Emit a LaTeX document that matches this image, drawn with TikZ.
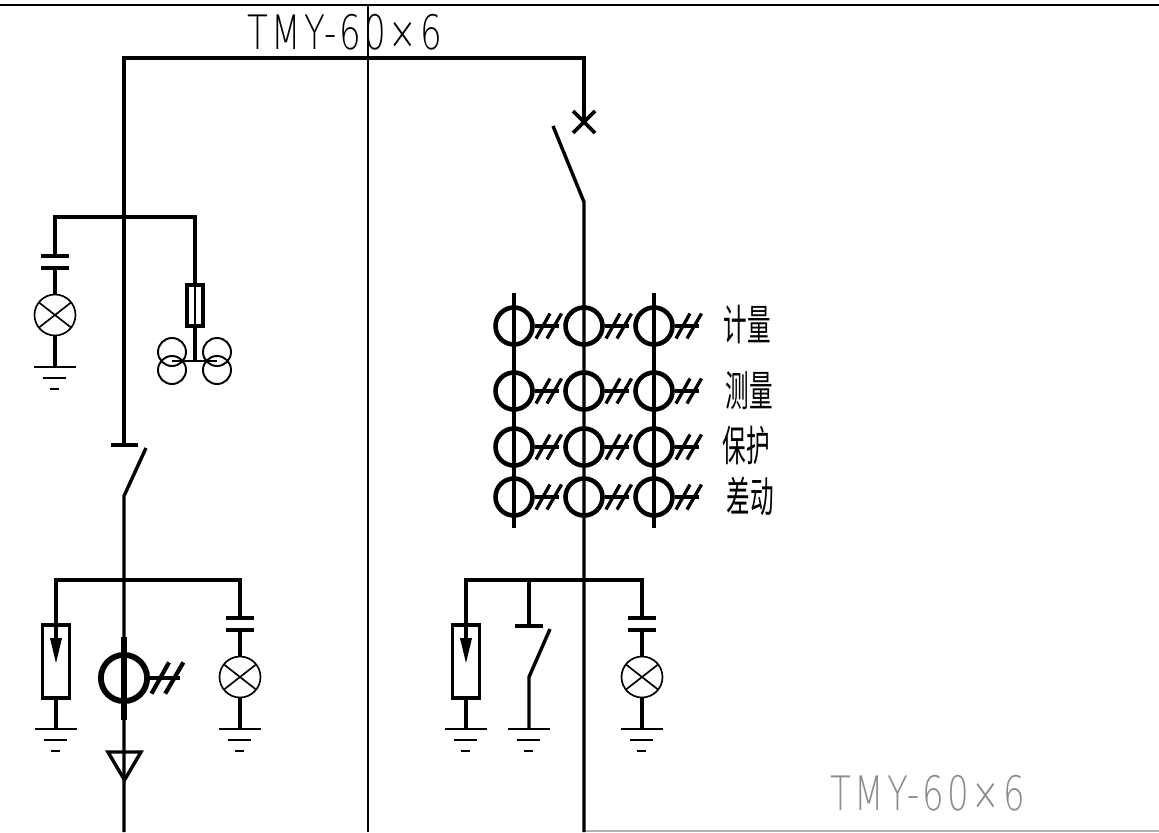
\documentclass[tikz,border=0pt]{standalone}
\usepackage{fontspec}
\setsansfont{DejaVu Sans ExtraLight}[LetterSpace=9]
\newfontfamily\cjk{Noto Sans CJK SC}
\tikzset{
    bus/.style={line width=2.1pt},
    wire/.style={line width=1.95pt},
    thinline/.style={line width=0.95pt},
    rating/.style={inner sep=0pt, font=\sffamily\fontsize{27}{27}\selectfont, transform shape, xscale=0.72},
    tag/.style={inner sep=0pt, font=\cjk\fontsize{24}{24}\selectfont, transform shape, xscale=0.56},
    earth/.pic={
        \draw[thinline] (-21, 0) -- (21, 0);
        \draw[thinline] (-12.5, 11) -- (10.5, 11);
        \draw[thinline] (-5.5, 22) -- (3.5, 22);
    },
    lampleg/.pic={
        \coordinate (-top) at (0, -59);
        \draw[wire] (0, -47) -- (0, -20.5);
        \draw[wire] (0, 20.5) -- (0, 52);
        \draw[wire] (-14, -59) -- (14, -59);
        \draw[wire] (-14, -47) -- (14, -47);
        \draw[thinline] (0, 0) circle[radius=20.5];
        \draw[thinline] (-16, -12.5) -- (16, 12.5);
        \draw[thinline] (-16, 12.5) -- (16, -12.5);
        \path (0, 52) pic {earth};
    },
    arrester/.pic={
        \coordinate (-top) at (0, 13);
        \draw[wire] (-13.5, 0) rectangle (13.5, 73);
        \fill (-6, 13) -- (6, 13) -- (0, 38) -- cycle;
        \draw[wire] (0, 73) -- (0, 104);
        \path (0, 104) pic {earth};
    },
    ct/.pic={
        \draw[line width=#1] (0, 0) circle[radius=18.5];
        \draw[line width=0.72*#1] (21, 0) -- (45, 0);
        \draw[line width=0.72*#1] (22, 12.5) -- (36, -12.5);
        \draw[line width=0.72*#1] (33, 12.5) -- (47.5, -12.5);
    }
}
\begin{document}
\begin{tikzpicture}[x=0.02cm, y=-0.02cm]
    \useasboundingbox (0, 0) rectangle (1159, 832);

    % frame
    \draw[line width=0.9pt] (0, 5) -- (1159, 5);
    \draw[line width=0.75pt] (368, 5) -- (368, 832);
    \draw[line width=0.75pt, black!30] (584, 831) -- (1159, 831);

    % ratings
    \node[rating] (topbar) at (345, 32) {TMY-60×6};
    \node[rating, text=black!45] (lowbar) at (928, 793) {TMY-60×6};

    % bus and the two feeders
    \coordinate (busL) at (124, 58);
    \coordinate (busR) at (584, 58);
    \coordinate (isoTop) at (124, 445);
    \coordinate (isoLow) at (124, 496);
    \coordinate (breakTop) at (584, 122);
    \coordinate (breakLow) at (584, 202);
    \draw[bus] (isoTop) -- (busL) -- (busR) -- (breakTop);
    \draw[bus] (111, 445) -- (138, 445);
    \draw[wire] (146, 448) -- (isoLow) -- (124, 832);
    \draw[bus] (573, 111) -- (595, 133);
    \draw[bus] (573, 133) -- (595, 111);
    \draw[wire] (553, 126) -- (breakLow) -- (584, 832);

    % upper left branch
    \coordinate (upL) at (55, 217);
    \coordinate (upR) at (195, 217);
    \path (55, 315) pic (lampA) {lampleg};
    \draw[wire] (lampA-top) -- (upL) -- (upR) -- (195, 285);
    \draw[wire] (187, 285) rectangle (203, 326);
    \draw[thinline] (195, 285) -- (195, 326);
    \draw[wire] (195, 326) -- (195, 361);
    \draw[line width=1.2pt] (172, 361) -- (217, 361);
    \foreach \xc in {172, 217} {
        \foreach \yc in {352, 370} {
            \draw[line width=1.1pt] (\xc, \yc) circle[radius=14];
        }
    }

    % lower left branch
    \coordinate (lowLa) at (55, 580);
    \coordinate (lowLb) at (240, 580);
    \path (56, 625) pic (arrA) {arrester};
    \path (240, 677) pic (lampB) {lampleg};
    \draw[wire] (arrA-top) -- (56, 580) -- (lowLb) -- (lampB-top);
    \draw[line width=2.9pt] (124, 637) -- (124, 720);
    \path (124, 678) pic[scale=1.25] {ct={3.3pt}};
    \draw[wire] (108, 752) -- (141, 752) -- (124.5, 780) -- cycle;

    % lower right branch
    \coordinate (lowRa) at (466, 580);
    \coordinate (lowRb) at (642, 580);
    \path (466, 625) pic (arrB) {arrester};
    \path (642, 677) pic (lampC) {lampleg};
    \draw[wire] (arrB-top) -- (lowRa) -- (lowRb) -- (lampC-top);
    \draw[wire] (529, 580) -- (529, 626);
    \draw[wire] (515, 626) -- (543, 626);
    \draw[wire] (550, 629) -- (529, 677) -- (529, 729);
    \path (529, 729) pic {earth};

    % current transformers
    \draw[wire] (514, 293) -- (514, 528);
    \draw[wire] (654, 293) -- (654, 528);
    \foreach \xc in {514, 584, 654} {
        \foreach \yc in {326, 391, 447, 497} {
            \path (\xc, \yc) pic {ct={2.6pt}};
        }
    }

    % labels
    \node[tag] (metering) at (747, 325) {计量};
    \node[tag] (measuring) at (749, 391) {测量};
    \node[tag] (protection) at (746, 446) {保护};
    \node[tag] (differential) at (750, 496) {差动};
\end{tikzpicture}
\end{document}
